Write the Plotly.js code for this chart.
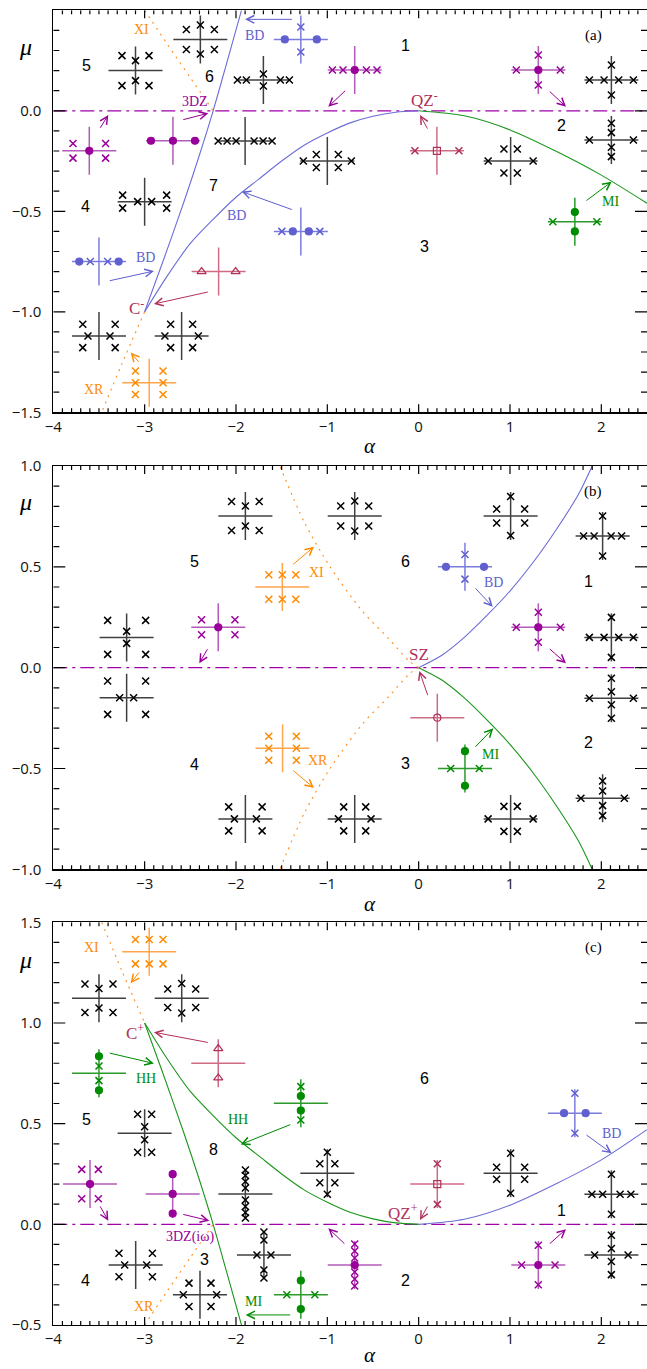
<!DOCTYPE html>
<html><head><meta charset="utf-8">
<script src="https://cdn.plot.ly/plotly-3.0.1.min.js"></script>
<style>html,body{margin:0;padding:0;background:#fff}</style>
</head><body><div id="chart" style="width:647px;height:1369px"></div>
<script>
// ================= DATA =================
const alphaTicks = [-4,-3,-2,-1,0,1,2];
const muTicksA = [-1.5,-1.0,-0.5,0.0,0.5];
const muTicksB = [-1.0,-0.5,0.0,0.5,1.0];
const muTicksC = [-0.5,0.0,0.5,1.0,1.5];
const minorStep = 0.1;

const aBDlineAlpha  = [-3.00,-2.80,-2.56,-2.40,-2.25,-2.10,-1.94];
const aBDlineMu     = [-1.00,-0.75,-0.44,-0.22, 0.00, 0.24, 0.50];
const aBDcurveAlpha = [-3.00,-2.75,-2.50,-2.25,-2.00,-1.75,-1.50,-1.25,-1.00,-0.75,-0.50,-0.25,0.00];
const aBDcurveMu    = [-1.00,-0.82,-0.66,-0.54,-0.43,-0.34,-0.25,-0.17,-0.11,-0.06,-0.027,-0.007,0.00];
const aMIcurveAlpha = [0.00,0.50,1.00,1.50,2.00,2.50];
const aMIcurveMu    = [0.00,-0.025,-0.095,-0.20,-0.32,-0.46];
const aXIAlpha = [-3.00,-2.75,-2.50,-2.25];
const aXIMu    = [0.50,0.33,0.165,0.00];
const aXRAlpha = [-3.00,-3.25,-3.47];
const aXRMu    = [-1.00,-1.26,-1.50];

const bBDAlpha = [0.00,0.25,0.50,0.75,1.00,1.25,1.50,1.75,1.90];
const bBDMu    = [0.00,0.06,0.15,0.26,0.38,0.52,0.68,0.86,1.00];
const bMIAlpha = [0.00,0.25,0.50,0.75,1.00,1.25,1.50,1.75,1.90];
const bMIMu    = [0.00,-0.06,-0.15,-0.26,-0.38,-0.52,-0.68,-0.86,-1.00];
const bXIAlpha = [0.00,-0.10,-0.33,-0.61,-0.97,-1.25,-1.52];
const bXIMu    = [0.00,0.03,0.145,0.277,0.50,0.72,1.00];
const bXRAlpha = [0.00,-0.10,-0.33,-0.61,-0.97,-1.25,-1.52];
const bXRMu    = [0.00,-0.03,-0.145,-0.277,-0.50,-0.72,-1.00];

const cHHlineAlpha  = [-3.00,-2.80,-2.56,-2.40,-2.25,-2.10,-1.94];
const cHHlineMu     = [1.00,0.75,0.44,0.22,0.00,-0.24,-0.50];
const cHHcurveAlpha = [-3.00,-2.75,-2.50,-2.25,-2.00,-1.75,-1.50,-1.25,-1.00,-0.75,-0.50,-0.25,0.00];
const cHHcurveMu    = [1.00,0.82,0.66,0.54,0.43,0.34,0.25,0.17,0.11,0.06,0.027,0.007,0.00];
const cBDcurveAlpha = [0.00,0.50,1.00,1.50,2.00,2.50];
const cBDcurveMu    = [0.00,0.025,0.095,0.20,0.32,0.47];
const cXIAlpha = [-3.47,-3.25,-3.00];
const cXIMu    = [1.50,1.26,1.00];
const cXRAlpha = [-3.00,-2.75,-2.50,-2.25];
const cXRMu    = [-0.50,-0.33,-0.165,0.00];

const glyphsA = [
 [-3.10, 0.200,'k','x 13.5 15|x 0 10'], [-2.39, 0.355,'k','x 14 10|x 0 14.5'],
 [-1.70, 0.153,'k','x 17 0|x 26 0|x 0 6'], [-1.29, 0.355,'b','o 16 0|x 0 12.5'],
 [-0.70, 0.203,'p','o 0 0|x 11.7 0|x 22.3 0'], [ 1.31, 0.203,'p','o 0 0|x 22 0|x 0 15'],
 [ 2.11, 0.153,'k','x 7.3 0|x 22 0|x 0 15'], [ 2.11,-0.145,'k','x 22 0|x 0 7.3|x 0 16.7'],
 [ 1.007,-0.25,'k','x 22.5 0|x 6.7 12'], [ 0.20,-0.199,'r','s 0 0|x 22 0'],
 [-1.00,-0.25,'k','x 24 0|x 11 6.5'], [-1.90,-0.15,'k','x 9 0|x 18 0|x 27 0'],
 [-2.69,-0.149,'p','o 0 0|o 22 0'], [-3.606,-0.199,'p','o 0 0|x 16.3 7.3'],
 [-3.00,-0.452,'k','x 22 6.5|x 7 0'], [-1.29,-0.60,'b','x 19 0|o 8 0'],
 [-3.50,-0.75,'b','o 19.7 0|x 8.7 0'], [-2.19,-0.80,'r','t 17 0'],
 [-3.50,-1.12,'k','x 16.2 11.7|x 11 0'], [-2.595,-1.12,'k','x 11 11.7|x 16.7 0'],
 [-2.95,-1.353,'o','x 13.8 0|x 13.8 11.7'], [ 1.71,-0.552,'g','o 0 9.7|x 22 0']
];
const glyphsB = [
 [-1.897, 0.752,'k','x 13.8 14.5|x 0 10'], [-0.70, 0.752,'k','x 14 10|x 0 15'],
 [ 1.007, 0.752,'k','x 14 7|x 0 19.5'], [ 2.014, 0.653,'k','x 8.5 0|x 19 0|x 0 20'],
 [ 0.507, 0.50,'b','o 19 0|x 0 12.3'], [ 1.31, 0.20,'p','o 0 0|x 22 0|x 0 15'],
 [ 2.11, 0.15,'k','x 7.3 0|x 22 0|x 0 20'], [ 2.11,-0.152,'k','x 22 0|x 0 6.5|x 0 20'],
 [ 2.014,-0.648,'k','x 21.7 0|x 0 7.3|x 0 17.3'], [ 1.007,-0.75,'k','x 22.5 0|x 6.7 12.5'],
 [-0.70,-0.75,'k','x 16.3 0|x 11 12'], [ 0.507,-0.50,'g','o 0 17.3|x 14.3 0'],
 [ 0.204,-0.248,'r','c 0 0'], [-1.49,-0.40,'o','x 13.8 0|x 13.8 12'],
 [-3.197,-0.149,'k','x 19 16.7|x 7 0'], [-3.197, 0.15,'k','x 19 17|x 0 6'],
 [-1.897,-0.75,'k','x 16.7 12|x 11 0'], [-2.194, 0.20,'p','o 0 0|x 16.7 7.5'],
 [-1.493, 0.40,'o','x 13.5 12.3|x 0 12.3']
];
const glyphsC = [
 [-2.95, 1.354,'o','x 13.8 12.2|x 0 12.2'], [-3.50, 1.123,'k','x 14 14.3|x 0 9.7'],
 [-2.594, 1.123,'k','x 14 9.3|x 0 14.7'], [-2.194, 0.80,'r','t 0 14.7'],
 [-3.50, 0.75,'g','o 0 17|x 0 7.3'], [-1.29, 0.601,'g','x 0 16.7|o 0 7.3'],
 [-3.00, 0.452,'k','x 7 19|x 0 6.5'], [-3.598, 0.20,'p','o 0 0|x 8.3 14.7'],
 [-2.693, 0.151,'p','o 0 0|o 0 19.7'], [-1.897, 0.151,'k','x 0 6|x 0 12.5|x 0 18.5|x 0 24'],
 [-1.694,-0.152,'k','x 7 0|x 0 15|x 0 23'], [-3.098,-0.202,'k','x 16.7 11.7|x 11 0'],
 [-2.394,-0.35,'k','x 11 11.7|x 16.7 0'], [-1.29,-0.35,'g','o 0 14.3|x 14 0'],
 [-1.00, 0.254,'k','x 0 21|x 7.5 9.5'], [-0.70,-0.202,'p','o 0 0|x 0 7|x 0 14|x 0 21'],
 [ 0.204, 0.20,'r','s 0 0|x 0 20.3'], [ 1.007, 0.254,'k','x 0 20|x 14 6'],
 [ 1.71, 0.552,'b','o 10.8 0|x 0 20'], [ 2.11, 0.149,'k','x 8.7 0|x 19.5 0|x 0 20'],
 [ 1.31,-0.202,'p','o 0 0|x 16.7 0|x 0 19.7'], [ 2.11,-0.152,'k','x 16.7 0|x 0 6.5|x 0 19.7']
];

const arrowsA = [
 [-0.788,0.107,-0.989,0.020,'p'], [1.419,0.103,1.613,0.020,'p'],
 [0.105,-0.096,0.015,-0.021,'r'], [-3.496,-0.092,-3.398,-0.021,'p'],
 [-2.594,-0.046,-2.303,-0.012,'p'], [-1.372,0.455,-1.901,0.455,'b'],
 [-1.372,-0.494,-1.937,-0.402,'b'], [-3.398,-0.847,-2.898,-0.797,'b'],
 [-2.292,-0.900,-2.898,-0.961,'r'], [-3.051,-1.256,-3.153,-1.203,'o'],
 [1.821,-0.452,2.113,-0.353,'g']
];
const arrowsB = [
 [0.606,0.401,0.811,0.302,'b'], [1.419,0.099,1.613,0.022,'p'],
 [0.606,-0.400,0.817,-0.301,'g'], [0.105,-0.144,0.007,-0.016,'r'],
 [-1.390,-0.504,-1.146,-0.597,'o'], [-2.303,0.099,-2.402,0.022,'p'],
 [-1.390,0.506,-1.146,0.600,'o']
];
const arrowsC = [
 [-3.051,1.258,-3.153,1.197,'o'], [-2.292,0.902,-2.898,0.954,'r'],
 [-3.398,0.852,-2.898,0.799,'g'], [-1.390,0.498,-1.948,0.397,'g'],
 [-3.496,0.096,-3.398,0.018,'p'], [-2.594,0.051,-2.292,0.018,'p'],
 [-1.390,-0.450,-1.894,-0.450,'g'], [-0.796,-0.103,-0.989,-0.020,'p'],
 [0.105,0.096,0.015,0.021,'r'], [1.821,0.449,2.113,0.353,'b'],
 [1.419,-0.103,1.613,-0.024,'p']
];

const labelsA = [
 [-3.032,0.405,'XI','o','s'], [-1.792,0.377,'BD','b','s'], [-0.141,0.327,'1','k','n'],
 [1.91,0.377,'(a)','k','p'], [-3.642,0.224,'5','k','n'], [-2.295,0.173,'6','k','n'],
 [-2.449,0.045,'3DZ','p','s'], [0.069,0.057,'QZ<sup>-</sup>','r','L'], [1.566,-0.071,'2','k','n'],
 [-2.248,-0.374,'7','k','n'], [-3.645,-0.477,'4','k','n'], [-1.992,-0.523,'BD','b','s'],
 [2.095,-0.452,'MI','g','s'], [0.062,-0.676,'3','k','n'], [-2.996,-0.729,'BD','b','s'],
 [-3.087,-0.978,'C<sup>-</sup>','r','L'], [-3.551,-1.386,'XR','o','s']
];
const labelsB = [
 [1.91,0.873,'(b)','k','p'], [-2.449,0.526,'5','k','n'], [-0.141,0.526,'6','k','n'],
 [-1.116,0.473,'XI','o','s'], [1.857,0.426,'1','k','n'], [0.817,0.423,'BD','b','s'],
 [0.004,0.063,'SZ','r','L'], [1.857,-0.372,'2','k','n'], [0.789,-0.433,'MI','g','s'],
 [-1.099,-0.458,'XR','o','s'], [-2.449,-0.478,'4','k','n'], [-0.141,-0.474,'3','k','n']
];
const labelsC = [
 [-3.580,1.374,'XI','o','s'], [1.91,1.374,'(c)','k','p'], [-3.106,0.957,'C<sup>+</sup>','r','L'],
 [-2.988,0.722,'HH','g','s'], [0.062,0.725,'6','k','n'], [-3.642,0.523,'5','k','n'],
 [-1.981,0.523,'HH','g','s'], [2.113,0.452,'BD','b','s'], [-2.248,0.373,'8','k','n'],
 [1.566,0.071,'1','k','n'], [-0.168,0.063,'QZ<sup>+</sup>','r','L'],
 [-2.503,-0.061,'3DZ(iω)','p','s'], [-2.347,-0.174,'3','k','n'], [-3.645,-0.280,'4','k','n'],
 [-0.141,-0.280,'2','k','n'], [-1.810,-0.384,'MI','g','s'], [-3.007,-0.409,'XR','o','s']
];

// ================= STYLE / LAYOUT =================
const W = 647, H = 1369;
const xDom = [53.3/W, 1];
const xRange = [-4, 2.5];
const panelPx = [ {top:10.3, bot:412.3}, {top:466.0, bot:869.3}, {top:922.3, bot:1325.0} ];
const MARK = {k:'#000000', p:'#990099', b:'#5f5fd0', r:'#b0305a', o:'#ff8a00', g:'#008c00'};
const GLINE = {k:'#404040', p:'#b35cb8', b:'#7c7cdc', r:'#cf6c84', o:'#ffa64d', g:'#2a9a2a'};
const CURVE = {b:'#6c6cd8', g:'#1a961a', o:'#ff8c1a', p:'#a000a8'};
const SYM = {x:'x-thin', o:'circle', t:'triangle-up-open', s:'square-open', c:'circle-open'};
const TICKLEN = {xMajor:8, xMinor:4, yMajor:12, yMinor:6};

const panels = [
 {range:[-1.5,0.5], ticks:muTicksA, glyphs:glyphsA, arrows:arrowsA, labels:labelsA,
  curves:[[aXIAlpha,aXIMu,'o','dot'],[aXRAlpha,aXRMu,'o','dot'],[aBDlineAlpha,aBDlineMu,'b','solid'],
          [aBDcurveAlpha,aBDcurveMu,'b','solid'],[aMIcurveAlpha,aMIcurveMu,'g','solid']]},
 {range:[-1,1], ticks:muTicksB, glyphs:glyphsB, arrows:arrowsB, labels:labelsB,
  curves:[[bXIAlpha,bXIMu,'o','dot'],[bXRAlpha,bXRMu,'o','dot'],[bBDAlpha,bBDMu,'b','solid'],
          [bMIAlpha,bMIMu,'g','solid']]},
 {range:[-0.5,1.5], ticks:muTicksC, glyphs:glyphsC, arrows:arrowsC, labels:labelsC,
  curves:[[cXIAlpha,cXIMu,'o','dot'],[cXRAlpha,cXRMu,'o','dot'],[cHHlineAlpha,cHHlineMu,'g','solid'],
          [cHHcurveAlpha,cHHcurveMu,'g','solid'],[cBDcurveAlpha,cBDcurveMu,'b','solid']]}
];

const traces = [];
const annotations = [];
const layout = { width: W, height: H, margin:{l:0,r:0,t:0,b:0}, showlegend:false };
const pxPerAlpha = (W*(xDom[1]-xDom[0]))/(xRange[1]-xRange[0]);
const near = (arr, v) => arr.some(t => Math.abs(t - v) < 1e-6);

panels.forEach((P, i) => {
  const n = i === 0 ? '' : String(i+1);
  const pp = panelPx[i];
  const yDom = [1 - pp.bot/H, 1 - pp.top/H];
  const pxPerMu = (pp.bot - pp.top)/(P.range[1]-P.range[0]);
  const dA = px => px/pxPerAlpha;
  const dM = px => px/pxPerMu;

  layout['xaxis'+n] = {
    domain:xDom, range:xRange, anchor:'y'+n, tickmode:'linear', tick0:alphaTicks[0], dtick:alphaTicks[1]-alphaTicks[0],
    ticks:'', mirror:true, showline:true, linecolor:'#000', linewidth:1.2, showgrid:false, zeroline:false,
    tickfont:{size:15, color:'#111'}
  };
  layout['yaxis'+n] = {
    domain:yDom, range:P.range, anchor:'x'+n, tickmode:'linear', tick0:P.ticks[0], dtick:P.ticks[1]-P.ticks[0], tickformat:'.1f',
    ticks:'', mirror:true, showline:true, linecolor:'#000', linewidth:1.2, showgrid:false, zeroline:false,
    tickfont:{size:15, color:'#111'}, ticksuffix:'  '
  };

  traces.push({x:xRange, y:[0,0], xaxis:'x'+n, yaxis:'y'+n, mode:'lines',
    line:{color:CURVE.p, width:1.3, dash:'14px,5px,3px,5px'}});

  P.curves.forEach(c => {
    traces.push({x:c[0], y:c[1], xaxis:'x'+n, yaxis:'y'+n, mode:'lines',
      line:{color:CURVE[c[2]], width:1.1, shape:'spline', smoothing:0.8,
            dash: c[3]==='dot' ? '2px,5px' : 'solid'}});
  });

  const lineBy = {}, markBy = {};
  P.glyphs.forEach(g => {
    const [ga, gm, ck, spec] = g;
    const hx = dA(27), vy = dM(24);
    if (!lineBy[ck]) lineBy[ck] = {x:[], y:[]};
    lineBy[ck].x.push(ga-hx, ga+hx, null, ga, ga, null);
    lineBy[ck].y.push(gm, gm, null, gm-vy, gm+vy, null);
    spec.split('|').forEach(part => {
      const [t, sx, sy] = part.trim().split(/\s+/);
      const dx = parseFloat(sx), dy = parseFloat(sy);
      const xs = dx === 0 ? [0] : [-dx, dx];
      const ys = dy === 0 ? [0] : [-dy, dy];
      const key = ck + '|' + t;
      if (!markBy[key]) markBy[key] = {x:[], y:[], ck, t};
      xs.forEach(ox => ys.forEach(oy => {
        markBy[key].x.push(ga + dA(ox));
        markBy[key].y.push(gm + dM(oy));
      }));
    });
  });
  Object.keys(lineBy).forEach(ck => {
    traces.push({x:lineBy[ck].x, y:lineBy[ck].y, xaxis:'x'+n, yaxis:'y'+n, mode:'lines',
      line:{color:GLINE[ck], width:1.5}});
  });
  Object.values(markBy).forEach(mk => {
    const isX = mk.t === 'x';
    traces.push({x:mk.x, y:mk.y, xaxis:'x'+n, yaxis:'y'+n, mode:'markers',
      marker:{symbol:SYM[mk.t], size: isX ? 7 : (mk.t==='t' ? 8 : 7), color:MARK[mk.ck],
              line:{color:MARK[mk.ck], width: isX ? 1.5 : 1.2}}});
  });

  // axis tick marks (inside, on all four sides), built from the axis ranges and tick arrays
  const tx = [], ty = [];
  const [y0, y1] = P.range;
  for (let k = Math.round(xRange[0]/minorStep)+1; k < Math.round(xRange[1]/minorStep); k++) {
    const v = k*minorStep;
    const len = dM(near(alphaTicks, v) ? TICKLEN.xMajor : TICKLEN.xMinor);
    tx.push(v, v, null, v, v, null);
    ty.push(y0, y0+len, null, y1, y1-len, null);
  }
  for (let k = Math.round(y0/minorStep)+1; k < Math.round(y1/minorStep); k++) {
    const v = k*minorStep;
    const len = dA(near(P.ticks, v) ? TICKLEN.yMajor : TICKLEN.yMinor);
    tx.push(xRange[0], xRange[0]+len, null, xRange[1], xRange[1]-len, null);
    ty.push(v, v, null, v, v, null);
  }
  traces.push({x:tx, y:ty, xaxis:'x'+n, yaxis:'y'+n, mode:'lines', hoverinfo:'skip',
    line:{color:'#000', width:1.2}});

  P.arrows.forEach(a => {
    annotations.push({xref:'x'+n, yref:'y'+n, axref:'x'+n, ayref:'y'+n,
      x:a[2], y:a[3], ax:a[0], ay:a[1], text:'', showarrow:true,
      arrowhead:5, arrowsize:1.5, arrowwidth:1, arrowcolor:MARK[a[4]]});
  });

  P.labels.forEach(l => {
    const kind = l[4];
    let font;
    if (kind === 'n') font = {family:'Liberation Sans, Arial, sans-serif', size:16, color:'#000'};
    else if (kind === 'p') font = {family:'Liberation Serif, Times New Roman, serif', size:15, color:'#000'};
    else if (kind === 'L') font = {family:'Liberation Serif, Times New Roman, serif', size:17, color:MARK[l[3]]};
    else font = {family:'Liberation Serif, Times New Roman, serif', size:14, color:MARK[l[3]]};
    annotations.push({xref:'x'+n, yref:'y'+n, x:l[0], y:l[1], text:l[2], showarrow:false,
      xanchor:'center', yanchor:'middle', font});
  });

  const muY = [46.7, 501.7, 960][i];
  const alY = [446, 904, 1355][i];
  annotations.push({xref:'paper', yref:'paper', x:25/W, y:1-muY/H, text:'<i>μ</i>', showarrow:false,
    xanchor:'center', yanchor:'middle', font:{family:'Liberation Serif, serif', size:24, color:'#000'}});
  annotations.push({xref:'paper', yref:'paper', x:370/W, y:1-alY/H, text:'<i>α</i>', showarrow:false,
    xanchor:'center', yanchor:'middle', font:{family:'Liberation Serif, serif', size:21, color:'#000'}});
});

layout.annotations = annotations;
Plotly.newPlot('chart', traces, layout, {staticPlot:true});
</script></body></html>
